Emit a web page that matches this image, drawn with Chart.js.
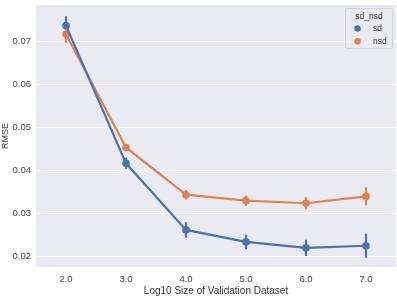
<!DOCTYPE html>
<html><head><meta charset="utf-8">
<script src="https://cdn.jsdelivr.net/npm/chart.js@4"></script>
<style>html,body{margin:0;padding:0;background:#fff;overflow:hidden}canvas{display:block}</style>
</head><body><canvas id="c" width="400" height="297"></canvas>
<script>
const categories = ['2.0','3.0','4.0','5.0','6.0','7.0'];
const sdValues  = [0.0737, 0.0416, 0.0261, 0.0233, 0.0219, 0.0224];
const sdLower   = [0.0720, 0.0403, 0.0243, 0.0216, 0.0200, 0.0196];
const sdUpper   = [0.0759, 0.0429, 0.0279, 0.0250, 0.0238, 0.0252];
const nsdValues = [0.0717, 0.0453, 0.0343, 0.0329, 0.0323, 0.0339];
const nsdLower  = [0.0697, 0.0446, 0.0332, 0.0317, 0.0309, 0.0318];
const nsdUpper  = [0.0729, 0.0460, 0.0354, 0.0341, 0.0337, 0.0360];
const yTicks = [0.02, 0.03, 0.04, 0.05, 0.06, 0.07];
const yTickLabels = ['0.02','0.03','0.04','0.05','0.06','0.07'];
const seriesNames = ['sd','nsd'];
const legendTitle = 'sd_nsd';
const xTitle = 'Log10 Size of Validation Dataset';
const yTitle = 'RMSE';

const BLUE = '#4c72b0', ORANGE = '#dd8452';
const FONT = 'Liberation Sans, Arial, sans-serif';

const bgPlugin = {
  id: 'bg',
  beforeDraw(chart) {
    const {ctx, chartArea: a} = chart;
    ctx.save(); ctx.fillStyle = '#eaeaf2';
    ctx.fillRect(a.left, a.top, a.right - a.left, a.bottom - a.top);
    ctx.restore();
  }
};
const errPlugin = {
  id: 'err',
  afterDatasetsDraw(chart) {
    const {ctx} = chart;
    const xs = chart.scales.x, ys = chart.scales.y;
    chart.data.datasets.forEach((ds) => {
      ctx.save(); ctx.strokeStyle = ds.borderColor; ctx.lineWidth = 2.2;
      ds.lower.forEach((lo, i) => {
        const x = xs.getPixelForValue(i);
        ctx.beginPath();
        ctx.moveTo(x, ys.getPixelForValue(lo));
        ctx.lineTo(x, ys.getPixelForValue(ds.upper[i]));
        ctx.stroke();
      });
      ctx.restore();
    });
  }
};
const legendPlugin = {
  id: 'lg',
  afterDraw(chart) {
    const {ctx, chartArea: a} = chart;
    const w = 47, h = 40, x0 = a.right - w - 4, y0 = a.top + 3;
    ctx.save();
    ctx.fillStyle = 'rgba(234,234,242,0.8)';
    ctx.strokeStyle = '#d3d3db'; ctx.lineWidth = 1;
    ctx.beginPath(); ctx.roundRect(x0 + 0.5, y0 + 0.5, w, h, 2); ctx.fill(); ctx.stroke();
    ctx.fillStyle = '#333';
    ctx.font = '8.5px ' + FONT; ctx.textBaseline = 'middle';
    ctx.textAlign = 'center';
    ctx.fillText(legendTitle, x0 + w / 2 + 0.5, y0 + 8.5);
    chart.data.datasets.forEach((ds, i) => {
      const yy = y0 + 20.5 + i * 12.7;
      ctx.fillStyle = ds.borderColor;
      ctx.beginPath(); ctx.arc(x0 + 12.5, yy, 3.3, 0, Math.PI * 2); ctx.fill();
      ctx.fillStyle = '#333'; ctx.textAlign = 'left';
      ctx.fillText(ds.label, x0 + 28, yy);
    });
    ctx.restore();
  }
};

new Chart(document.getElementById('c'), {
  type: 'line',
  data: {
    labels: categories,
    datasets: [
      {label: seriesNames[0], data: sdValues, lower: sdLower, upper: sdUpper,
       borderColor: BLUE, backgroundColor: BLUE, borderWidth: 2.2, pointRadius: 3.8, pointBorderWidth: 0, tension: 0},
      {label: seriesNames[1], data: nsdValues, lower: nsdLower, upper: nsdUpper,
       borderColor: ORANGE, backgroundColor: ORANGE, borderWidth: 2.2, pointRadius: 3.8, pointBorderWidth: 0, tension: 0}
    ]
  },
  options: {
    responsive: false, animation: false, devicePixelRatio: 1,
    layout: {padding: {top: 5, right: 1, left: 0, bottom: 0}},
    plugins: {legend: {display: false}, tooltip: {enabled: false}},
    scales: {
      x: {
        offset: true,
        grid: {display: false, drawTicks: false},
        border: {display: false},
        ticks: {color: '#444', font: {family: FONT, size: 9.5}, padding: 7},
        title: {display: true, text: xTitle, color: '#333', font: {family: FONT, size: 10}, padding: {top: 1, bottom: 0}},
        afterFit(s) { s.height = 30; s.paddingLeft = 0; s.paddingRight = 0; }
      },
      y: {
        min: 0.01745, max: 0.0785,
        grid: {color: '#ffffff', lineWidth: 1, drawTicks: false},
        border: {display: false},
        afterBuildTicks(s) { s.ticks = yTicks.map(v => ({value: v})); },
        ticks: {color: '#444', font: {family: FONT, size: 9.5}, padding: 5,
                callback: (v) => { const i = yTicks.findIndex(t => Math.abs(t - v) < 1e-9); return i >= 0 ? yTickLabels[i] : ''; }},
        title: {display: true, text: yTitle, color: '#333', font: {family: FONT, size: 9}, padding: {top: 0, bottom: 0}},
        afterFit(s) { s.width = 36; s.paddingTop = 0; s.paddingBottom = 0; }
      }
    }
  },
  plugins: [bgPlugin, errPlugin, legendPlugin]
});
</script></body></html>
